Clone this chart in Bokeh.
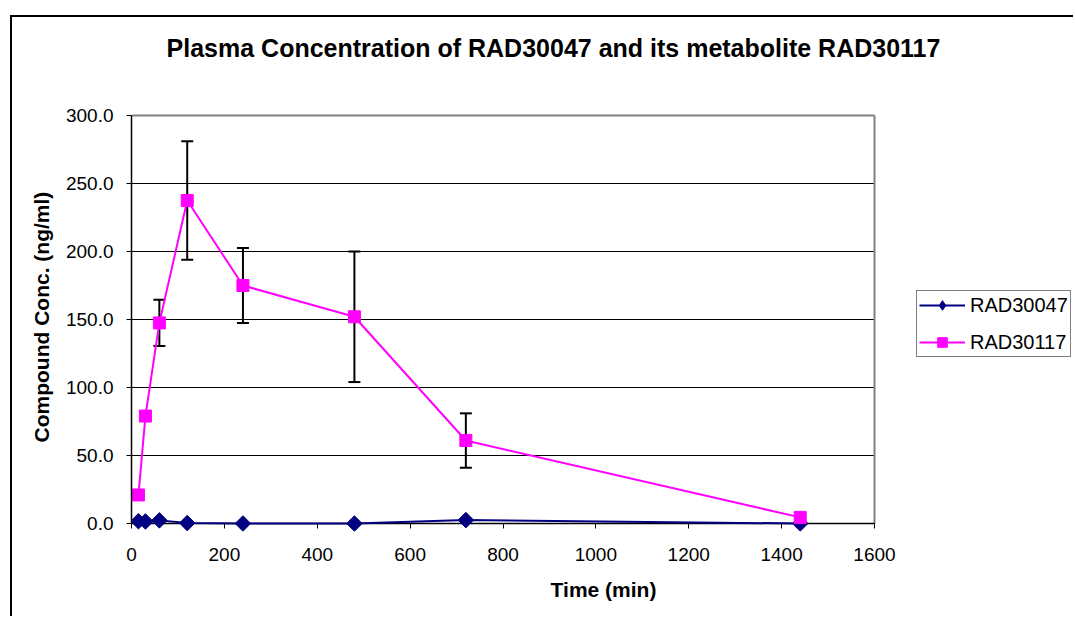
from bokeh.plotting import figure
from bokeh.models import (ColumnDataSource, Whisker, TeeHead, Legend, LegendItem,
                          Range1d, FixedTicker, CustomJSTickFormatter, Label, Title)
from bokeh.embed import file_html
from bokeh.resources import INLINE
import numpy as np

# ---- data ----
time_min = [15, 30, 60, 120, 240, 480, 720, 1440]
rad30047 = [1.7, 1.5, 2.3, 0.3, 0.0, 0.0, 2.5, 0.0]
rad30117 = [21.0, 79.0, 147.5, 237.5, 175.0, 152.0, 61.0, 4.5]
rad30117_sd = [0.0, 0.0, 17.0, 43.5, 27.5, 48.0, 20.0, 0.0]

x_ticks = [0, 200, 400, 600, 800, 1000, 1200, 1400, 1600]
y_ticks = [0, 50, 100, 150, 200, 250, 300]
y_tick_labels = ["0.0", "50.0", "100.0", "150.0", "200.0", "250.0", "300.0"]
x_max, y_max = 1600, 300

title_text = "Plasma Concentration of RAD30047 and its metabolite RAD30117"
x_label = "Time (min)"
y_label = "Compound Conc. (ng/ml)"
series_names = ["RAD30047", "RAD30117"]

FONT = "Liberation Sans"

# ---- geometry (canvas sits inside a 2px chart-area border) ----
W, H = 1063, 601
F_LEFT = 119            # canvas x of time 0
X_MAX_PX = 862          # canvas x of time 1600
Y_MAX_PX = 98           # canvas y of value 300
ZERO_Y = 506            # canvas y of value 0
EXTRA = 8               # frame extends below zero so markers on 0 are not cut
px_x = (X_MAX_PX - F_LEFT) / x_max
px_y = (ZERO_Y - Y_MAX_PX) / y_max
x_end = (W - F_LEFT) / px_x
y_end = y_max + Y_MAX_PX / px_y
y_start = -EXTRA / px_y

p = figure(width=W, height=H, output_backend="svg", toolbar_location=None,
           x_range=Range1d(0, x_end), y_range=Range1d(y_start, y_end),
           min_border_left=F_LEFT, min_border_right=0,
           min_border_top=0, min_border_bottom=H - (ZERO_Y + EXTRA))
p.styles = {"border-top": "2px solid black", "border-left": "2px solid black",
            "margin-left": "10px", "margin-top": "15px"}
p.background_fill_color = "white"
p.border_fill_color = "white"
p.outline_line_color = None
p.title.visible = False

# grid lines (value ticks) limited to the plot area, drawn from the tick list
p.xgrid.visible = False
p.ygrid.visible = False
grid_vals = [v for v in y_ticks if 0 < v < y_max]
p.segment(x0=[0] * len(grid_vals), y0=grid_vals, x1=[x_max] * len(grid_vals), y1=grid_vals,
          line_color="black", line_width=1)

# plot-area edges: grey top / right, black value-axis line at 0
edge_src = ColumnDataSource(dict(x0=[0, x_max], y0=[y_max, 0], x1=[x_max, x_max], y1=[y_max, y_max]))
p.segment("x0", "y0", "x1", "y1", source=edge_src, line_color="#808080", line_width=2)
p.segment(x0=[0], y0=[0], x1=[x_max], y1=[0], line_color="black", line_width=1.5)

# axes
p.xaxis.ticker = FixedTicker(ticks=x_ticks)
p.yaxis.ticker = FixedTicker(ticks=y_ticks)
p.yaxis.formatter = CustomJSTickFormatter(
    args=dict(lab=y_tick_labels, tk=y_ticks),
    code="const i = tk.indexOf(tick); return i >= 0 ? lab[i] : tick.toFixed(1);")
p.yaxis.bounds = (0, y_max)
p.xaxis.bounds = (0, x_max)
for ax in (p.xaxis, p.yaxis):
    ax.axis_line_color = "black"
    ax.axis_line_width = 1.5
    ax.major_tick_line_color = "black"
    ax.major_tick_line_width = 1
    ax.minor_tick_out = 0
    ax.minor_tick_in = 0
    ax.major_label_text_font = FONT
    ax.major_label_text_font_size = "19px"
    ax.major_label_text_color = "black"
    ax.axis_label_text_font = FONT
    ax.axis_label_text_font_size = "21px"
    ax.axis_label_text_font_style = "bold"
    ax.axis_label_text_color = "black"
p.yaxis.major_tick_out = 5
p.yaxis.major_tick_in = 0
p.yaxis.major_label_standoff = 13
# x axis sits at the frame bottom (EXTRA px below 0); its ticks reach up to the 0 line
p.xaxis.axis_line_color = None
p.xaxis.major_tick_in = EXTRA
p.xaxis.major_tick_out = 5 - EXTRA
p.xaxis.axis_label = x_label
p.xaxis.major_label_standoff = 16
p.xaxis.axis_label_standoff = 14

# value-axis title, centred on the 0..300 plot area
ytitle = Title(text=y_label, align="left", offset=89, standoff=20,
               text_font=FONT, text_font_size="21px", text_font_style="bold",
               text_color="black")
p.add_layout(ytitle, "left")

# ---- error bars (behind markers) ----
idx = [i for i, s in enumerate(rad30117_sd) if s > 0]
err_src = ColumnDataSource(dict(
    x=[time_min[i] for i in idx],
    upper=[rad30117[i] + rad30117_sd[i] for i in idx],
    lower=[rad30117[i] - rad30117_sd[i] for i in idx]))
whisk = Whisker(source=err_src, base="x", upper="upper", lower="lower",
                line_color="black", line_width=2, level="underlay",
                upper_head=TeeHead(size=12, line_color="black", line_width=2),
                lower_head=TeeHead(size=12, line_color="black", line_width=2))
p.add_layout(whisk)

# ---- series ----
src_a = ColumnDataSource(dict(x=time_min, y=rad30047))
src_b = ColumnDataSource(dict(x=time_min, y=rad30117))

la = p.line("x", "y", source=src_a, line_color="#000080", line_width=2)
ma = p.scatter("x", "y", source=src_a, marker="square", angle=np.pi / 4, size=11,
               fill_color="#000080", line_color="#000080")
lb = p.line("x", "y", source=src_b, line_color="#FF00FF", line_width=2)
mb = p.scatter("x", "y", source=src_b, marker="square", size=12,
               fill_color="#FF00FF", line_color="#FF00FF")
# legend-only diamond key (the legend does not rotate markers); no visible point
key_a = p.scatter(x=[np.nan], y=[np.nan], marker="diamond", size=10,
                  fill_color="#000080", line_color="#000080")

legend = Legend(items=[LegendItem(label=series_names[0], renderers=[la, key_a]),
                       LegendItem(label=series_names[1], renderers=[lb, mb])],
                location=(785, 174))
legend.label_text_font = FONT
legend.label_text_font_size = "20px"
legend.label_text_color = "black"
legend.glyph_width = 46
legend.glyph_height = 24
legend.label_standoff = 5
legend.spacing = 13
legend.padding = 2
legend.margin = 0
legend.border_line_color = "black"
legend.border_line_width = 1
legend.background_fill_color = "white"
legend.background_fill_alpha = 1
p.add_layout(legend)

# ---- chart title ----
title = Label(x=422, y=483.5, x_units="screen", y_units="screen",
              text=title_text, text_align="center", text_baseline="middle",
              text_font=FONT, text_font_size="25px", text_font_style="bold",
              text_color="black")
p.add_layout(title)

open("out.html", "w").write(file_html(p, INLINE))
